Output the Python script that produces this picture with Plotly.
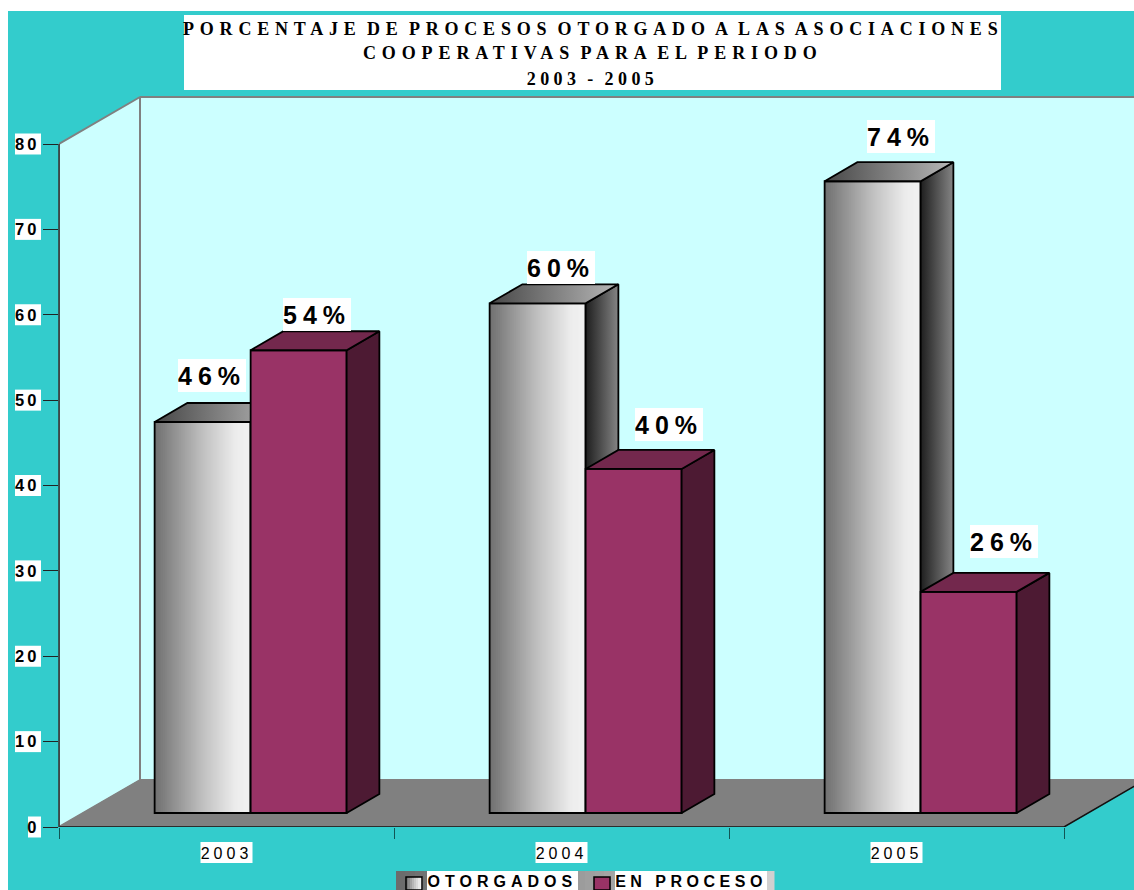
import json
import numpy as np
import plotly.graph_objects as go

# ---- data ----
CATEGORIES = ["2003", "2004", "2005"]
OTORGADOS = [45.8, 59.7, 74.0]
EN_PROCESO = [54.2, 40.3, 25.9]
OTORGADOS_LABELS = ["46%", "60%", "74%"]
EN_PROCESO_LABELS = ["54%", "40%", "26%"]
Y_TICKS = [0, 10, 20, 30, 40, 50, 60, 70, 80]
TITLE_LINES = ["PORCENTAJE DE PROCESOS OTORGADO A LAS ASOCIACIONES",
               "COOPERATIVAS PARA EL PERIODO",
               "2003 - 2005"]
SERIES_NAMES = ["OTORGADOS", "EN PROCESO"]
# pixel nudges of the value labels relative to the top-centre of each bar
LABEL_SHIFT_A = [(9, 46), (23, 36), (28, 45)]
LABEL_SHIFT_B = [(18, 36), (35, 44), (35, 50)]

# ---- page geometry (screenshot pixels; the page body has an 8px margin) ----
BODY = 8
W, H = 1134 - BODY, 890 - BODY
AX_L, AX_B, AX_TOP = 59, 827, 95
PX_PER_CAT = 335.0
PX_PER_UNIT = (827 - 144) / 80
DX = 81 / PX_PER_CAT           # depth of the 3-D box, in category units
DY = 47 / PX_PER_UNIT          # depth of the 3-D box, in value units
D_FRONT, D_BAR = 14 / 47, 19 / 47
BAR_W = 96 / PX_PER_CAT
XR = [-0.5, -0.5 + (1134 - AX_L) / PX_PER_CAT]
YR = [0, (AX_B - AX_TOP) / PX_PER_UNIT]
XEND = len(CATEGORIES) - 0.5
BASE = D_FRONT * DY

TEAL, WALL, FLOOR, MAG = "#33CCCC", "#CCFFFF", "#808080", "#993366"
MAG_TOP, MAG_SIDE = "#73284D", "#4D1A33"
ARIAL, SERIF = "Liberation Sans, Arial", "Liberation Serif, Times New Roman"


def px(X):
    return (X - AX_L) / (1134 - AX_L)


def py(Y):
    return (AX_B - Y) / (AX_B - AX_TOP)


def grey(t):
    v = np.interp(t, [0, 0.5, 0.85, 1], [112, 192, 237, 241])
    v = int(round(float(v)))
    return f"rgb({v},{v},{v})"


fig = go.Figure()

# ---- walls and floor ----
WALL_LINE = dict(color=FLOOR, width=2)
fig.add_trace(go.Scatter(x=[XR[0] + DX, XEND + DX + 0.05, XEND + DX + 0.05, XR[0] + DX, XR[0] + DX],
                         y=[80 + DY, 80 + DY, DY, DY, 80 + DY], fill="toself", fillcolor=WALL,
                         mode="lines", line=WALL_LINE, hoverinfo="skip"))
fig.add_trace(go.Scatter(x=[XR[0], XR[0] + DX, XR[0] + DX, XR[0], XR[0]],
                         y=[0, DY, 80 + DY, 80, 0], fill="toself", fillcolor=WALL,
                         mode="lines", line=WALL_LINE, hoverinfo="skip"))
fig.add_trace(go.Scatter(x=[XR[0], XR[0] + DX, XEND + DX, XEND, XR[0]],
                         y=[0, DY, DY, 0, 0], fill="toself", fillcolor=FLOOR,
                         mode="lines", line=dict(color=FLOOR, width=1),
                         hoverinfo="skip"))
fig.add_trace(go.Scatter(x=[XR[0], XEND, XEND + DX], y=[0, 0, DY],
                         mode="lines", line=dict(color="#111111", width=1.5),
                         hoverinfo="skip"))


def add_box(v, x0, axes, side_fill, top_fill, front):
    xa, ya = axes
    x1 = x0 + BAR_W
    ddx, ddy = D_BAR * DX, D_BAR * DY
    top = BASE + v
    line = dict(color="black", width=1.8)
    # side
    fig.add_trace(go.Scatter(x=[x1, x1 + ddx, x1 + ddx, x1, x1],
                             y=[BASE, BASE + ddy, top + ddy, top, BASE],
                             mode="lines", line=line, hoverinfo="skip",
                             xaxis=xa, yaxis=ya, **side_fill))
    # top
    fig.add_trace(go.Scatter(x=[x0, x0 + ddx, x1 + ddx, x1, x0],
                             y=[top, top + ddy, top + ddy, top, top],
                             mode="lines", line=line, hoverinfo="skip",
                             xaxis=xa, yaxis=ya, **top_fill))
    # front
    if front == "gradient":
        n = 48
        w = BAR_W / n
        # every slice runs on to the right edge, painted left to right: no seams
        lefts = [x0 + k * w for k in range(n)]
        widths = [x1 - left for left in lefts]
        fig.add_trace(go.Bar(x=[left + wd / 2 for left, wd in zip(lefts, widths)],
                             y=[v] * n, base=BASE, width=widths,
                             marker=dict(color=[grey((k + 0.5) / n) for k in range(n)],
                                         line=dict(width=0)),
                             hoverinfo="skip", xaxis=xa, yaxis=ya))
        fcolor = "rgba(0,0,0,0)"
    else:
        fcolor = front
    fig.add_trace(go.Bar(x=[x0 + BAR_W / 2], y=[v], base=BASE, width=[BAR_W],
                         marker=dict(color=fcolor, line=line),
                         hoverinfo="skip", xaxis=xa, yaxis=ya))


annotations = []
for i, cat in enumerate(CATEGORIES):
    c = i + D_FRONT * DX
    add_box(OTORGADOS[i], c - BAR_W, ("x2", "y2"),
            dict(fill="toself", fillgradient=dict(type="horizontal",
                 colorscale=[[0, "#1e1e1e"], [1, "#858585"]])),
            dict(fill="toself", fillgradient=dict(type="horizontal",
                 colorscale=[[0, "#474747"], [1, "#b8b8b8"]])),
            "gradient")
    add_box(EN_PROCESO[i], c, ("x3", "y3"),
            dict(fill="toself", fillcolor=MAG_SIDE),
            dict(fill="toself", fillcolor=MAG_TOP),
            MAG)

    for val, lab, xc, (sx, sy) in (
            (OTORGADOS[i], OTORGADOS_LABELS[i], c - BAR_W / 2, LABEL_SHIFT_A[i]),
            (EN_PROCESO[i], EN_PROCESO_LABELS[i], c + BAR_W / 2, LABEL_SHIFT_B[i])):
        annotations.append(dict(x=xc, y=BASE + val, xref="x3", yref="y3",
                                text=lab, showarrow=False, xshift=sx, yshift=sy,
                                font=dict(family=ARIAL, size=25, color="black",
                                          weight="bold"),
                                bgcolor="white", width=68, height=33, borderpad=0,
                                borderwidth=0, align="center", valign="middle"))

# ---- title ----
for line, Yc in zip(TITLE_LINES, (29, 53, 79)):
    annotations.append(dict(x=px((184 + 1001) / 2), y=py(Yc), xref="paper", yref="paper",
                            text=line, showarrow=False,
                            font=dict(family=SERIF, size=18, color="black", weight="bold"),
                            xanchor="center", yanchor="middle"))

# ---- legend text ----
for name, X0, X1 in ((SERIES_NAMES[0], 427, 578), (SERIES_NAMES[1], 615, 767)):
    annotations.append(dict(x=px((X0 + X1) / 2), y=py(871), xref="paper", yref="paper",
                            text=name, showarrow=False, yanchor="top", xanchor="center",
                            font=dict(family=ARIAL, size=16, color="black", weight="bold"),
                            bgcolor="white", width=X1 - X0, height=20, borderpad=0,
                            borderwidth=0, align="center", valign="middle"))

# ---- chrome shapes ----
shapes = []


def rect(X0, Y0, X1, Y1, color, layer="below", line=None):
    shapes.append(dict(type="rect", xref="paper", yref="paper", x0=px(X0), x1=px(X1),
                       y0=py(Y0), y1=py(Y1), fillcolor=color, layer=layer,
                       line=line or dict(width=0)))


rect(0, BODY, 1134, 11, "white")              # white strip above the teal page
rect(184, 15, 1001, 90, "white")              # title box
for t in Y_TICKS:                             # white chips behind y tick labels
    Y = AX_B - t * PX_PER_UNIT
    rect(15 if t else 28, Y - 10.5, 41, Y + 10.5, "white")
for i in range(len(CATEGORIES)):              # white chips behind x tick labels
    Xc = AX_L + (i + 0.5) * PX_PER_CAT
    rect(Xc - 26, 842, Xc + 26, 863, "white")
# legend background
n = 40
for k in range(n):
    X0 = 396 + k * (774 - 396) / n
    v = int(np.interp(k / (n - 1), [0, 1], [108, 208]))
    rect(X0, 871, X0 + (774 - 396) / n + 0.5, 890, f"rgb({v},{v},{v})")
# legend swatches
for k in range(8):
    rect(406 + 2 * k, 877, 408.5 + 2 * k, 890, grey((k + 0.5) / 8))
rect(406, 877, 422, 890, "rgba(0,0,0,0)", line=dict(color="black", width=1.5))
rect(594, 877, 610, 890, MAG, line=dict(color="black", width=1.5))
# value axis line, from 0 to the top tick
shapes.append(dict(type="line", xref="paper", yref="y", x0=0, x1=0, y0=0, y1=80,
                   layer="above", line=dict(color="#333333", width=1.5)))

hidden = dict(visible=False, showgrid=False, zeroline=False, fixedrange=True)

fig.update_layout(
    width=W, height=H, autosize=False, showlegend=False, barmode="overlay",
    paper_bgcolor=TEAL, plot_bgcolor="rgba(0,0,0,0)",
    margin=dict(l=AX_L - BODY, r=0, t=AX_TOP - BODY, b=H - (AX_B - BODY), pad=0),
    annotations=annotations, shapes=shapes,
    xaxis=dict(range=XR, showgrid=False, zeroline=False, showline=False,
               tickmode="array", tickvals=list(range(len(CATEGORIES))), ticktext=CATEGORIES,
               ticks="", ticklabelstandoff=15,
               tickfont=dict(family=ARIAL, size=16, color="black"),
               minor=dict(tickmode="array",
                          tickvals=[k - 0.5 for k in range(len(CATEGORIES) + 1)],
                          ticks="outside", ticklen=11, tickwidth=1, tickcolor="#115555",
                          showgrid=False)),
    yaxis=dict(range=YR, showgrid=False, zeroline=False, showline=False,
               tickmode="array", tickvals=Y_TICKS, ticks="outside", ticklen=15, tickwidth=1,
               tickcolor="#222222",
               tickfont=dict(family=ARIAL, size=16.5, color="black", weight="bold")),
    xaxis2=dict(range=XR, overlaying="x", anchor="y2", **hidden),
    yaxis2=dict(range=YR, overlaying="y", anchor="x2", **hidden),
    xaxis3=dict(range=XR, overlaying="x", anchor="y3", **hidden),
    yaxis3=dict(range=YR, overlaying="y", anchor="x3", **hidden),
)

# letter and word spacing of the reference's texts (plotly has no font attribute for them)
SPACING = {TITLE_LINES[0]: [5.8, -5], TITLE_LINES[1]: [5.9, -5], TITLE_LINES[2]: [4.4, -2],
           SERIES_NAMES[1]: [4.5, 0]}
POST = """
document.body.style.margin = '8px 0 0 8px';
var SPACING = %s;
document.querySelectorAll('.annotation-text').forEach(function(el){
  var s = SPACING[el.textContent];
  var fs = parseFloat(el.style.fontSize);
  if (s) { el.style.letterSpacing = s[0] + 'px'; el.style.wordSpacing = s[1] + 'px'; }
  else { el.style.letterSpacing = (fs > 20 ? 6 : 5) + 'px'; }
});
document.querySelectorAll('.xtick text').forEach(function(el){ el.style.letterSpacing = '4px'; });
document.querySelectorAll('.ytick text').forEach(function(el){ el.style.letterSpacing = '3.2px'; });
""" % json.dumps(SPACING)
fig.write_html("out.html", post_script=POST, config=dict(displayModeBar=False))
